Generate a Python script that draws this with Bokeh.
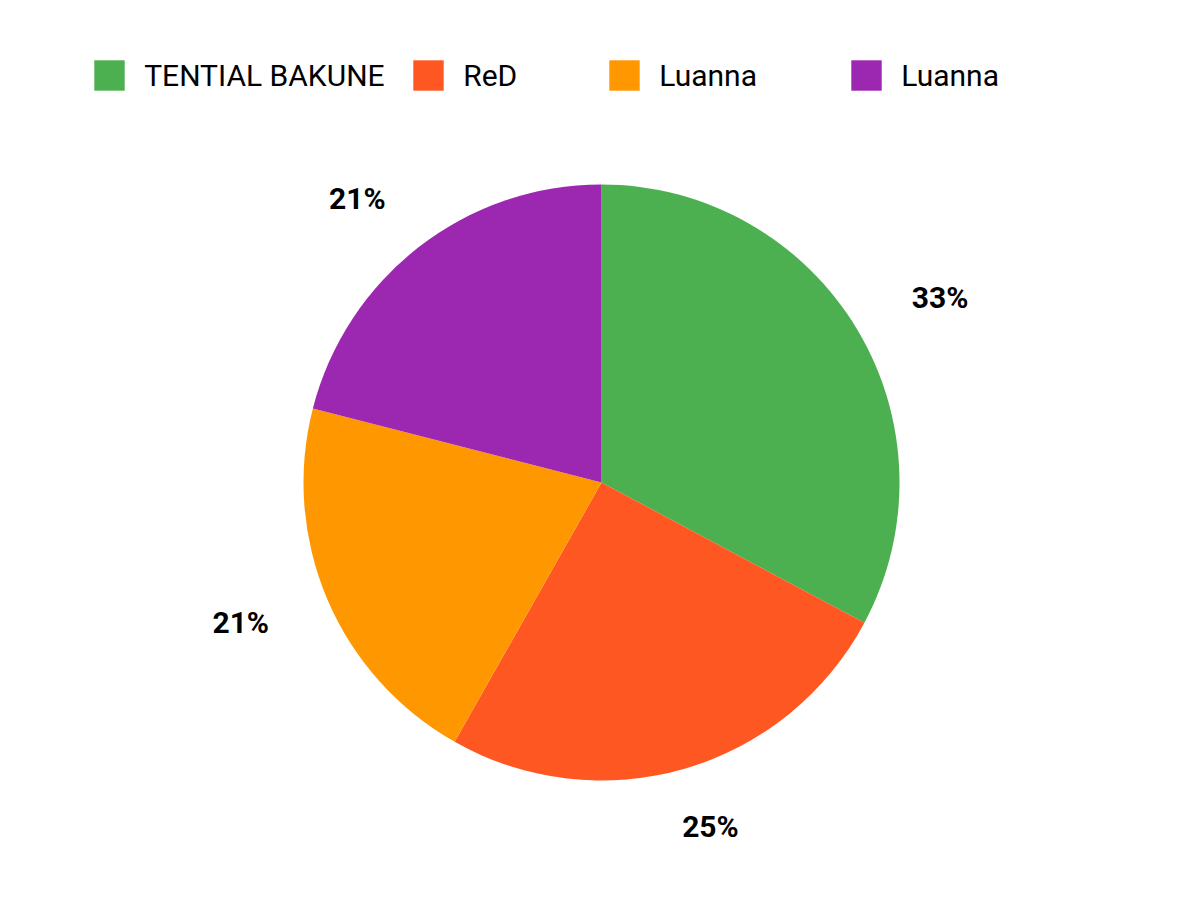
import math
from bokeh.plotting import figure
from bokeh.models import Range1d, Legend, LegendItem, ColumnDataSource
from bokeh.core.properties import value
from bokeh.embed import file_html
from bokeh.resources import INLINE

# ---- data ----
names = ["TENTIAL BAKUNE", "ReD", "Luanna", "Luanna"]
shares = [32.8, 25.4, 20.8, 21.0]
colors = ["#4CAF50", "#FF5722", "#FF9800", "#9C27B0"]

# ---- layout (page pixel coordinates, y down) ----
W, H = 1184, 884
CX, CY, R = 601, 482, 298
A, BW, BH = 354, 35, 4

total = sum(shares)
starts, ends, lx, ly, labels = [], [], [], [], []
cum = 0.0
for s in shares:
    a0 = cum / total * 360.0
    cum += s
    a1 = cum / total * 360.0
    starts.append(math.radians(90 - a0))
    ends.append(math.radians(90 - a1))
    mid = math.radians((a0 + a1) / 2)
    ux, uy = math.sin(mid), -math.cos(mid)
    m = max(abs(ux), abs(uy))
    px = CX + A * ux + BW * ux / m
    py = CY + A * uy + BH * uy / m
    lx.append(px)
    ly.append(900 - py)
    labels.append(f"{round(s / total * 100)}%")

src = ColumnDataSource(dict(start=starts, end=ends, color=colors, name=names))

p = figure(width=W, height=H, output_backend="svg", toolbar_location=None,
           x_range=Range1d(0, W), y_range=Range1d(900 - H, 900),
           x_axis_type=None, y_axis_type=None, min_border=0)
p.grid.visible = False
p.outline_line_color = None

wedges = p.wedge(x=CX, y=900 - CY, radius=R, start_angle="start", end_angle="end",
                 direction="clock", fill_color="color", line_color=None, source=src)

p.text(x=lx, y=ly, text=labels, text_align="center", text_baseline="middle",
       text_font=value("Roboto"), text_font_style="bold", text_font_size="30px",
       text_color="#000000")

# legends: one per item at its own horizontal slot
slots = [94, 413, 609, 851]
G = 38
for i, sx in enumerate(slots):
    leg = Legend(items=[LegendItem(label=names[i], renderers=[wedges], index=i)],
                 location=(sx - G * 0.1, H - 75 - G / 2),
                 glyph_width=G, glyph_height=G, label_height=G,
                 label_standoff=16, padding=0, margin=0, spacing=0,
                 border_line_color=None, background_fill_alpha=0,
                 label_text_font="Roboto", label_text_font_size="30px",
                 label_text_color="#000000")
    p.add_layout(leg)

open("out.html", "w").write(file_html(p, INLINE))
